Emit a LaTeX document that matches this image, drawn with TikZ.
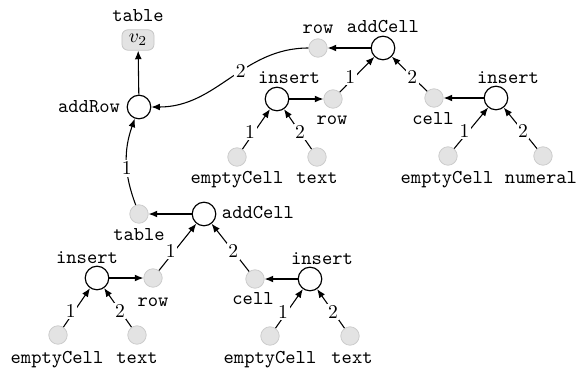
\documentclass[tikz,border=0pt]{standalone}
\usetikzlibrary{arrows.meta}
\begin{document}
\begin{tikzpicture}[x=0.51pt,y=-0.51pt,
  op/.style={circle,draw,line width=0.6pt,minimum size=12pt,inner sep=0pt},
  val/.style={circle,draw=gray!40,fill=gray!22,minimum size=9.4pt,inner sep=0pt},
  res/.style={rounded corners=3pt,draw=gray!45,fill=gray!22,inner xsep=3.5pt,inner ysep=2.3pt},
  txt/.style={font=\ttfamily,inner sep=0pt,text height=1.6ex,text depth=0.2ex},
  arr/.style={-{Latex[length=4.4pt,width=3.5pt]},line width=0.55pt},
  el/.style={fill=white,inner sep=0.8pt,pos=0.42}]
\useasboundingbox (0,0) rectangle (576,367);
% operation and value nodes
\node[res] (v2) at (138,40) {$v_2$};
\node[op] (addRow) at (139,107) {};
\node[val] (rowT) at (318,48) {};
\node[op] (addCellT) at (383,48) {};
\node[op] (insA) at (277,99) {};
\node[val] (rowA) at (333,99) {};
\node[val] (ecA) at (237,157) {};
\node[val] (txA) at (317,157) {};
\node[val] (cellA) at (434,98) {};
\node[op] (insR) at (496,98) {};
\node[val] (ecR) at (448,156) {};
\node[val] (numR) at (543,156) {};
\node[val] (tableB) at (139,214) {};
\node[op] (addCellB) at (204,214) {};
\node[op] (insB) at (97,278) {};
\node[val] (rowB) at (153,278) {};
\node[val] (ecB) at (58,335) {};
\node[val] (txB) at (137,335) {};
\node[val] (cellB) at (255,279) {};
\node[op] (insC) at (310,279) {};
\node[val] (ecC) at (270,336) {};
\node[val] (txC) at (350,336) {};
% text labels
\node[txt] (tTable) at (138,16) {table};
\node[txt] (tAddRow) at (89,107) {addRow};
\node[txt] (tRowT) at (318,28) {row};
\node[txt] (tAddCellT) at (383,27) {addCell};
\node[txt] (tInsA) at (289,78) {insert};
\node[txt] (tRowA) at (332,119) {row};
\node[txt] (tEcA) at (237,178) {emptyCell};
\node[txt] (tTxA) at (317,178) {text};
\node[txt] (tCellA) at (433,119) {cell};
\node[txt] (tInsR) at (508,78) {insert};
\node[txt] (tEcR) at (447,178) {emptyCell};
\node[txt] (tNumR) at (541,178) {numeral};
\node[txt] (tTableB) at (139,235) {table};
\node[txt] (tAddCellB) at (258,213) {addCell};
\node[txt] (tInsB) at (87,258) {insert};
\node[txt] (tRowB) at (153,301) {row};
\node[txt] (tEcB) at (57,358) {emptyCell};
\node[txt] (tTxB) at (137,358) {text};
\node[txt] (tCellB) at (253,299) {cell};
\node[txt] (tInsC) at (322,259) {insert};
\node[txt] (tEcC) at (270,358) {emptyCell};
\node[txt] (tTxC) at (352,358) {text};
% connectors
\draw[arr] (addRow) -- (v2);
\draw[arr] (rowT) to[out=180,in=0] node[el] {2} (addRow);
\draw[arr] (addCellT) -- (rowT);
\draw[arr] (rowA) -- node[el,xshift=-2pt] {1} (addCellT);
\draw[arr] (cellA) -- node[el] {2} (addCellT);
\draw[arr] (insA) -- (rowA);
\draw[arr] (ecA) -- node[el,xshift=-2pt] {1} (insA);
\draw[arr] (txA) -- node[el] {2} (insA);
\draw[arr] (insR) -- (cellA);
\draw[arr] (ecR) -- node[el,xshift=-2pt] {1} (insR);
\draw[arr] (numR) -- node[el] {2} (insR);
\draw[arr] (tableB) to[bend left=20] node[el] {1} (addRow);
\draw[arr] (addCellB) -- (tableB);
\draw[arr] (rowB) -- node[el,xshift=-2pt] {1} (addCellB);
\draw[arr] (cellB) -- node[el] {2} (addCellB);
\draw[arr] (insB) -- (rowB);
\draw[arr] (ecB) -- node[el,xshift=-2pt] {1} (insB);
\draw[arr] (txB) -- node[el] {2} (insB);
\draw[arr] (insC) -- (cellB);
\draw[arr] (ecC) -- node[el,xshift=-2pt] {1} (insC);
\draw[arr] (txC) -- node[el] {2} (insC);
\end{tikzpicture}
\end{document}
